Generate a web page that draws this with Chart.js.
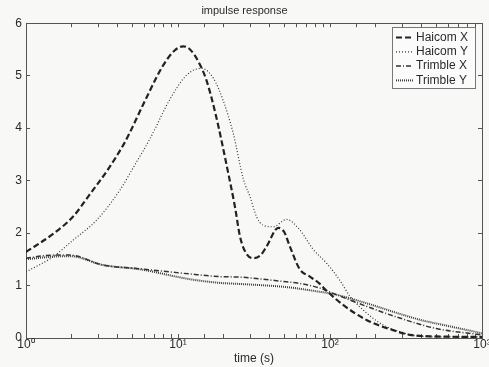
<!DOCTYPE html>
<html>
<head>
<meta charset="utf-8">
<script src="https://cdn.jsdelivr.net/npm/chart.js@4"></script>
<style>
  html, body { margin: 0; padding: 0; background: #f8f8f7; }
  #wrap { width: 489px; height: 367px; }
</style>
</head>
<body>
<div id="wrap"><canvas id="irchart"></canvas></div>
<script>
// impulse response, values

var haicomXt = [1, 1.5, 2.05, 2.6, 3.4, 4.37, 4.83, 5.9, 8.0, 9.5, 10.8, 12, 13.6, 15.4, 17.9, 21, 23.7, 25.6, 28, 31.2, 35, 38.2, 45.7, 50, 54.5, 63.3, 73.8, 85, 95, 122, 175, 260, 335, 500, 1000];
var haicomXv = [1.64, 1.98, 2.32, 2.72, 3.18, 3.68, 3.92, 4.45, 5.2, 5.48, 5.56, 5.5, 5.27, 4.91, 4.2, 3.26, 2.5, 1.93, 1.62, 1.52, 1.58, 1.74, 2.1, 2.02, 1.74, 1.31, 1.17, 1.04, 0.9, 0.63, 0.34, 0.15, 0.06, 0.03, 0.02];

var haicomYt = [1, 1.51, 2.05, 2.92, 4.15, 5.2, 6.55, 8.85, 11.4, 14.3, 17.1, 19.8, 23.1, 26.9, 29.8, 33, 36.3, 42.3, 51.8, 63.3, 77.5, 95.3, 116, 135, 175, 223, 288, 372, 600, 1000];
var haicomYv = [1.26, 1.55, 1.87, 2.25, 2.82, 3.3, 3.8, 4.55, 5.01, 5.14, 4.95, 4.53, 3.9, 3.03, 2.69, 2.3, 2.15, 2.12, 2.26, 2.06, 1.69, 1.42, 1.1, 0.8, 0.47, 0.25, 0.12, 0.04, 0.02, 0.02];

var trimbleXt = [1, 1.5, 1.95, 3.22, 5.6, 12, 18.9, 25.6, 51.8, 63.6, 86, 105, 175, 288, 500, 1000];
var trimbleXv = [1.52, 1.58, 1.58, 1.39, 1.32, 1.22, 1.17, 1.16, 1.07, 1.04, 0.95, 0.85, 0.6, 0.38, 0.18, 0.06];

var trimbleYt = [1, 1.5, 1.95, 3.22, 5.6, 12, 18.9, 25.6, 51.8, 86, 105, 175, 288, 400, 620, 1000];
var trimbleYv = [1.5, 1.55, 1.56, 1.39, 1.31, 1.12, 1.05, 1.03, 0.97, 0.88, 0.84, 0.66, 0.46, 0.34, 0.22, 0.09];

var seriesNames = ['Haicom X', 'Haicom Y', 'Trimble X', 'Trimble Y'];
var yTicks = [0, 1, 2, 3, 4, 5, 6];

var sup = { '0': '\u2070', '1': '\u00B9', '2': '\u00B2', '3': '\u00B3' };

function toPoints(t, v) {
	var pts = [];
	for (var i = 0; i < t.length; i++) pts.push({ x: t[i], y: v[i] });
	return pts;
}

function line(label, t, v, dash, width, color) {
	return {
		label: label,
		data: toPoints(t, v),
		borderColor: color,
		borderWidth: width,
		borderDash: dash,
		pointRadius: 0,
		fill: false,
		cubicInterpolationMode: 'monotone'
	};
}

var axisFont = { family: 'Liberation Sans, Arial, sans-serif', size: 12 };
var ink = '#2a2a2a';

// legend drawn inside the axes, like the original figure
var boxLegend = {
	id: 'boxLegend',
	afterDatasetsDraw: function(chart) {
		var ctx = chart.ctx;
		var x0 = 392, y0 = 27, w = 83, h = 61;
		ctx.save();
		ctx.fillStyle = '#fbfbfb';
		ctx.fillRect(x0, y0, w, h);
		ctx.strokeStyle = '#777';
		ctx.lineWidth = 1;
		ctx.setLineDash([]);
		ctx.strokeRect(x0 + 0.5, y0 + 0.5, w, h);
		ctx.font = '12px Liberation Sans, Arial, sans-serif';
		ctx.textBaseline = 'middle';
		chart.data.datasets.forEach(function(ds, i) {
			var yy = y0 + 10.5 + i * 14.3;
			ctx.strokeStyle = ds.borderColor;
			ctx.lineWidth = ds.borderWidth;
			ctx.setLineDash(ds.borderDash);
			ctx.beginPath();
			ctx.moveTo(x0 + 4, yy);
			ctx.lineTo(x0 + 21, yy);
			ctx.stroke();
			ctx.setLineDash([]);
			ctx.fillStyle = ink;
			ctx.fillText(ds.label, x0 + 24, yy);
		});
		ctx.restore();
	}
};

var gridOpts = { drawOnChartArea: false, drawTicks: true, tickLength: -4, color: '#555' };
var borderOpts = { display: true, color: '#555', width: 1 };

var chartConfig = {
	type: 'line',
	data: {
		datasets: [
			line(seriesNames[0], haicomXt, haicomXv, [6, 3], 2.2, '#222'),
			line(seriesNames[1], haicomYt, haicomYv, [1, 2], 1.2, '#333'),
			line(seriesNames[2], trimbleXt, trimbleXv, [5, 2, 1, 2], 1.5, '#333'),
			line(seriesNames[3], trimbleYt, trimbleYv, [1, 1], 2, '#3a3a3a')
		]
	},
	options: {
		responsive: true,
		maintainAspectRatio: false,
		animation: false,
		layout: { padding: 0 },
		plugins: {
			legend: { display: false },
			tooltip: { enabled: false },
			title: {
				display: true,
				text: 'impulse response',
				color: ink,
				font: { family: 'Liberation Sans, Arial, sans-serif', size: 11, weight: 'normal' },
				padding: { top: 4, bottom: 6 }
			}
		},
		scales: {
			x: {
				type: 'logarithmic',
				position: 'bottom',
				min: 1,
				max: 1000,
				grid: gridOpts,
				border: borderOpts,
				ticks: {
					autoSkip: false,
					maxRotation: 0,
					padding: 3,
					color: ink,
					font: axisFont,
					callback: function(val) {
						var p = Math.log10(val);
						if (Math.abs(p - Math.round(p)) < 1e-9) return '10' + sup[String(Math.round(p))];
						return '';
					}
				},
				title: { display: true, text: 'time (s)', color: ink, font: axisFont, padding: { top: 0, bottom: 1 } },
				afterFit: function(scale) {
					scale.height = 29;
					scale.paddingLeft = 0;
					scale.paddingRight = 0;
				}
			},
			x2: {
				type: 'logarithmic',
				position: 'top',
				min: 1,
				max: 1000,
				grid: gridOpts,
				border: borderOpts,
				ticks: { display: false, autoSkip: false },
				afterFit: function(scale) { scale.height = 0; }
			},
			y: {
				position: 'left',
				min: 0,
				max: 6,
				grid: gridOpts,
				border: borderOpts,
				afterBuildTicks: function(scale) {
					scale.ticks = yTicks.map(function(v) { return { value: v }; });
				},
				ticks: { padding: 8, color: ink, font: axisFont },
				afterFit: function(scale) { scale.width = 26; }
			},
			y2: {
				position: 'right',
				min: 0,
				max: 6,
				grid: gridOpts,
				border: borderOpts,
				afterBuildTicks: function(scale) {
					scale.ticks = yTicks.map(function(v) { return { value: v }; });
				},
				ticks: { display: false },
				afterFit: function(scale) { scale.width = 7; }
			}
		}
	},
	plugins: [boxLegend]
};

try {
	var ctx = document.getElementById('irchart').getContext('2d');
	var irChart = new Chart(ctx, chartConfig);
} catch (e) {
	console.log('chart failed', e);
}
</script>
</body>
</html>
